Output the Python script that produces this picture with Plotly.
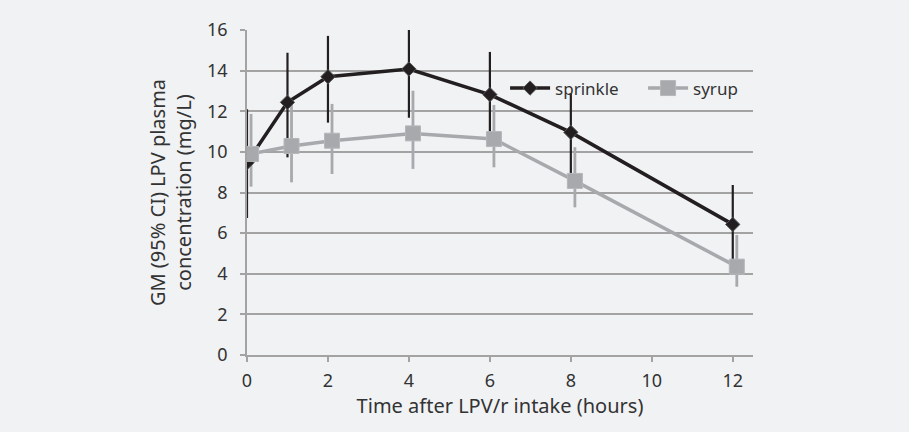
import plotly.graph_objects as go

# Data
time_h = [0, 1, 2, 4, 6, 8, 12]
syrup_offset = 0.1  # syrup points drawn slightly to the right in the reference

sprinkle_gm = [9.47, 12.44, 13.70, 14.08, 12.82, 10.96, 6.43]
sprinkle_lo = [6.75, 9.73, 11.44, 11.68, 10.95, 8.95, 4.60]
sprinkle_hi = [12.10, 14.88, 15.71, 16.00, 14.92, 12.88, 8.37]

syrup_gm = [9.90, 10.29, 10.55, 10.91, 10.63, 8.57, 4.35]
syrup_lo = [8.29, 8.50, 8.91, 9.16, 9.24, 7.27, 3.36]
syrup_hi = [11.87, 12.40, 12.36, 13.01, 12.31, 10.23, 5.91]

y_ticks = [0, 2, 4, 6, 8, 10, 12, 14, 16]
x_ticks = [0, 2, 4, 6, 8, 10, 12]

BG = "#f1f2f4"
DARK = "#231f20"
GREY = "#a7a9ac"
GRID = "#a3a3a3"
TEXT = "#333333"
FONT = "Noto Sans"

syrup_x = [t + syrup_offset for t in time_h]

def err(gm, lo, hi):
    return dict(
        type="data", symmetric=False,
        array=[h - g for g, h in zip(gm, hi)],
        arrayminus=[g - l for g, l in zip(gm, lo)],
    )

fig = go.Figure()

# Error bars first (behind lines/markers)
e = err(sprinkle_gm, sprinkle_lo, sprinkle_hi)
e.update(color=DARK, thickness=2.2, width=0)
fig.add_trace(go.Scatter(x=time_h, y=sprinkle_gm, mode="markers",
                         marker=dict(size=1, opacity=0), error_y=e,
                         showlegend=False, hoverinfo="skip"))
e = err(syrup_gm, syrup_lo, syrup_hi)
e.update(color=GREY, thickness=2.8, width=0)
fig.add_trace(go.Scatter(x=syrup_x, y=syrup_gm, mode="markers",
                         marker=dict(size=1, opacity=0), error_y=e,
                         showlegend=False, hoverinfo="skip"))

fig.add_trace(go.Scatter(
    x=time_h, y=sprinkle_gm, mode="lines+markers", name="sprinkle",
    line=dict(color=DARK, width=3.5),
    marker=dict(symbol="diamond", size=11, color=DARK,
                line=dict(color="#555555", width=1)),
))
fig.add_trace(go.Scatter(
    x=syrup_x, y=syrup_gm, mode="lines+markers", name="syrup",
    line=dict(color=GREY, width=3.5),
    marker=dict(symbol="square", size=15, color=GREY,
                line=dict(color="#b5b7ba", width=1)),
))

fig.update_layout(
    width=909, height=432,
    paper_bgcolor=BG, plot_bgcolor=BG,
    margin=dict(l=247, r=156, t=30, b=77),
    font=dict(family=FONT, size=18, color=TEXT),
    legend=dict(orientation="h", x=0.51, y=0.82, xanchor="left", yanchor="middle",
                bgcolor="rgba(0,0,0,0)", font=dict(size=17, color=TEXT),
                itemwidth=40, entrywidth=83, traceorder="normal"),
    showlegend=True,
)
fig.update_xaxes(
    range=[0, 12.5], tickvals=x_ticks, showgrid=False, zeroline=False,
    showline=True, linecolor=GRID, linewidth=1.5,
    ticks="outside", ticklen=5, tickcolor=GRID, tickwidth=1.5,
    tickfont=dict(size=18), ticklabelstandoff=4,
    title=dict(text="Time after LPV/r intake (hours)", font=dict(size=20), standoff=6),
)
fig.update_yaxes(
    range=[0, 16], tickvals=y_ticks, showgrid=True, gridcolor=GRID, gridwidth=1.5,
    zeroline=False, showline=True, linecolor=GRID, linewidth=1.5,
    ticks="outside", ticklen=5, tickcolor=GRID, tickwidth=1.5,
    tickfont=dict(size=18), ticklabelstandoff=9,
    title=dict(text="GM (95% CI) LPV plasma<br>concentration (mg/L)",
               font=dict(size=20), standoff=10),
)

fig.write_html("out.html", config={"displayModeBar": False},
               post_script="document.body.style.margin='0';document.body.style.padding='0';")
